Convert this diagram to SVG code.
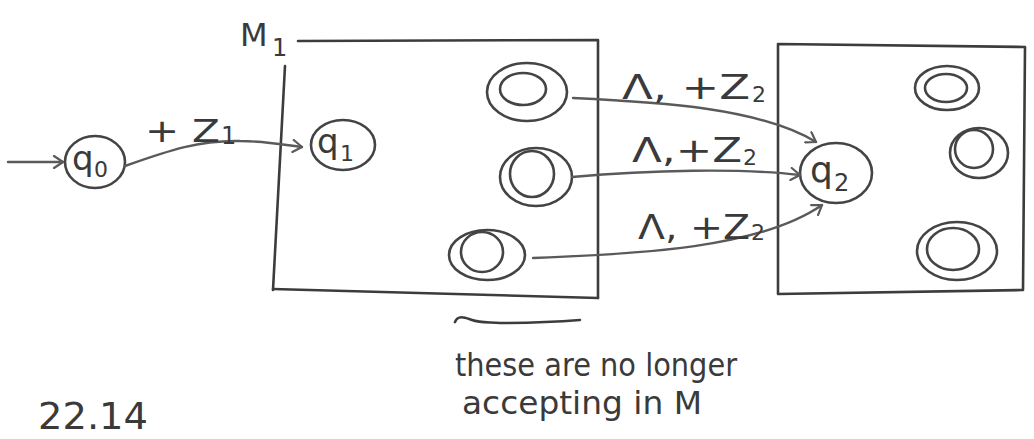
<svg xmlns="http://www.w3.org/2000/svg" width="1034" height="439" viewBox="0 0 1034 439">
<style>
.ink{fill:none;stroke:#3c3c3c;stroke-width:2.6;stroke-linecap:round;stroke-linejoin:round}
.conn{fill:none;stroke:#5a5a5a;stroke-width:2.4;stroke-linecap:round}
.st{fill:none;stroke:#444;stroke-width:2.6}
.t{font-family:"DejaVu Sans","Liberation Sans",sans-serif;fill:#3a3a3a}
</style>
<defs>
<marker id="arr" markerWidth="14" markerHeight="14" refX="11" refY="7" orient="auto" markerUnits="userSpaceOnUse">
<path d="M2,1 L11,7 L2,13" fill="none" stroke="#5a5a5a" stroke-width="2.2" stroke-linecap="round" stroke-linejoin="round"/>
</marker>
</defs>
<rect width="1034" height="439" fill="#ffffff"/>

<g id="M1-box">
<path class="ink" d="M298,41 L598,40 L598,298"/>
<path class="ink" d="M285,66 L273,290"/>
<path class="ink" d="M273,289 L598,298"/>
<text class="t" x="240" y="46" font-size="32">M</text>
<text class="t" x="272" y="56" font-size="24">1</text>
</g>

<g id="M2-box">
<path class="ink" d="M778,44 L1025,47 L1023,290 L778,294 Z"/>
</g>

<g id="q0">
<ellipse class="st" cx="95" cy="162" rx="30" ry="26"/>
<text class="t" x="72" y="170" font-size="34">q</text>
<text class="t" x="94" y="177" font-size="22">0</text>
</g>

<g id="q1">
<ellipse class="st" cx="343" cy="145" rx="32" ry="25"/>
<text class="t" x="317" y="153" font-size="34">q</text>
<text class="t" x="340" y="161" font-size="22">1</text>
</g>

<g id="m1-acc1">
<ellipse class="st" cx="527" cy="92" rx="40" ry="29"/>
<ellipse class="st" cx="523" cy="89" rx="23" ry="16"/>
</g>
<g id="m1-acc2">
<ellipse class="st" cx="536" cy="177" rx="36" ry="29"/>
<ellipse class="st" cx="532" cy="174" rx="22" ry="23"/>
</g>
<g id="m1-acc3">
<ellipse class="st" cx="487" cy="255" rx="38" ry="25"/>
<ellipse class="st" cx="482" cy="252" rx="21" ry="20"/>
</g>

<g id="q2">
<ellipse class="st" cx="836" cy="173" rx="36" ry="30"/>
<text class="t" x="810" y="182" font-size="36">q</text>
<text class="t" x="834" y="191" font-size="24">2</text>
</g>

<g id="m2-acc1">
<ellipse class="st" cx="947" cy="88" rx="32" ry="22"/>
<ellipse class="st" cx="946" cy="88" rx="21" ry="14"/>
</g>
<g id="m2-acc2">
<ellipse class="st" cx="979" cy="153" rx="29" ry="25"/>
<ellipse class="st" cx="974" cy="149" rx="19" ry="19"/>
</g>
<g id="m2-acc3">
<ellipse class="st" cx="957" cy="251" rx="40" ry="29"/>
<ellipse class="st" cx="953" cy="249" rx="26" ry="21"/>
</g>

<g id="connectors">
<path class="conn" d="M8,162 L63,162" marker-end="url(#arr)"/>
<path class="conn" d="M125,166 C170,150 200,140 240,141 C265,141 285,145 302,147" marker-end="url(#arr)"/>
<path class="conn" d="M573,98 C660,102 760,108 816,142" marker-end="url(#arr)"/>
<path class="conn" d="M572,177 C650,170 740,168 800,175" marker-end="url(#arr)"/>
<path class="conn" d="M533,258 C640,254 760,248 822,205" marker-end="url(#arr)"/>
</g>

<g id="labels">
<text class="t" x="145" y="142" font-size="32" textLength="75" lengthAdjust="spacingAndGlyphs">+ Z</text>
<text class="t" x="221" y="144" font-size="24">1</text>
<text class="t" x="622" y="99" font-size="34" textLength="128" lengthAdjust="spacingAndGlyphs">Λ, +Z</text>
<text class="t" x="752" y="102" font-size="22">2</text>
<text class="t" x="632" y="162" font-size="34" textLength="110" lengthAdjust="spacingAndGlyphs">Λ,+Z</text>
<text class="t" x="743" y="165" font-size="22">2</text>
<text class="t" x="638" y="239" font-size="34" textLength="112" lengthAdjust="spacingAndGlyphs">Λ, +Z</text>
<text class="t" x="751" y="240" font-size="22">2</text>
</g>

<g id="note">
<path class="ink" d="M455,322 C458,314 466,318 472,320 C480,323 490,322 500,323 C530,323 555,322 580,320"/>
<text class="t" x="455" y="376" font-size="32" textLength="282" lengthAdjust="spacingAndGlyphs">these are no longer</text>
<text class="t" x="462" y="414" font-size="32" textLength="240" lengthAdjust="spacingAndGlyphs">accepting in M</text>
<text class="t" x="38" y="429" font-size="38" textLength="110" lengthAdjust="spacingAndGlyphs">22.14</text>
</g>
</svg>
